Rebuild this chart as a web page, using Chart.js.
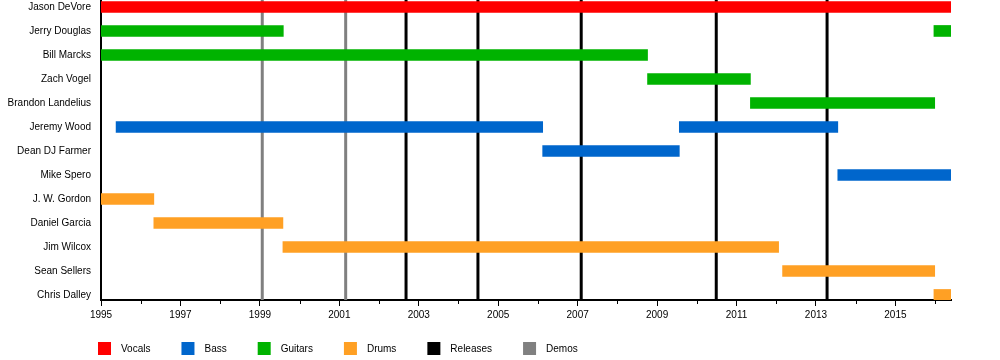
<!DOCTYPE html>
<html>
<head>
<meta charset="utf-8">
<script src="https://cdn.jsdelivr.net/npm/chart.js@4.4.1/dist/chart.umd.min.js"></script>
<style>
  html, body { margin: 0; padding: 0; background: #fff; }
  #c { display: block; }
</style>
</head>
<body>
<canvas id="c" width="1000" height="360"></canvas>
<script>
// ---- data ----
const members = ['Jason DeVore', 'Jerry Douglas', 'Bill Marcks', 'Zach Vogel', 'Brandon Landelius',
  'Jeremy Wood', 'Dean DJ Farmer', 'Mike Spero', 'J. W. Gordon', 'Daniel Garcia',
  'Jim Wilcox', 'Sean Sellers', 'Chris Dalley'];
const timelineStart = 1995;
const timelineEnd = 2016.4;
const yearTicks = [1995, 1996, 1997, 1998, 1999, 2000, 2001, 2002, 2003, 2004, 2005,
  2006, 2007, 2008, 2009, 2010, 2011, 2012, 2013, 2014, 2015, 2016];
const vocals = [['Jason DeVore', 1995, 2016.4]];
const bass = [['Jeremy Wood', 1995.38, 2006.12], ['Dean DJ Farmer', 2006.12, 2009.56],
  ['Jeremy Wood', 2009.56, 2013.55], ['Mike Spero', 2013.55, 2016.4]];
const guitars = [['Jerry Douglas', 1995, 1999.59], ['Bill Marcks', 1995, 2008.76],
  ['Zach Vogel', 2008.76, 2011.35], ['Brandon Landelius', 2011.35, 2015.99],
  ['Jerry Douglas', 2015.97, 2016.4]];
const drums = [['J. W. Gordon', 1995, 1996.33], ['Daniel Garcia', 1996.33, 1999.58],
  ['Jim Wilcox', 1999.58, 2012.06], ['Sean Sellers', 2012.16, 2015.99],
  ['Chris Dalley', 2015.97, 2016.4]];
const releases = [2002.68, 2004.49, 2007.09, 2010.49, 2013.28];
const demos = [1999.06, 2001.16];

// ---- styles ----
const FONT = "'Liberation Sans', Arial, sans-serif";
const colors = { Vocals: '#ff0000', Bass: '#0066cc', Guitars: '#00b300', Drums: '#ffa024', Releases: '#000000', Demos: '#808080' };

function toBars(spans) {
  return spans.map(s => ({ x: [s[1], s[2]], y: members.indexOf(s[0]) }));
}
const roleSets = [['Vocals', vocals], ['Bass', bass], ['Guitars', guitars], ['Drums', drums]];
const datasets = roleSets.map(([name, spans]) => ({
  label: name,
  data: toBars(spans),
  backgroundColor: colors[name],
  borderWidth: 0,
  maxBarThickness: 11,
  barPercentage: 1,
  categoryPercentage: 1,
  grouped: false
}));

const eventLines = {
  id: 'eventLines',
  beforeDatasetsDraw(chart) {
    const { ctx, chartArea, scales: { x } } = chart;
    ctx.save();
    const draw = (vals, col) => {
      ctx.strokeStyle = col;
      ctx.lineWidth = 3;
      vals.forEach(v => {
        const px = x.getPixelForValue(v);
        ctx.beginPath();
        ctx.moveTo(px, chartArea.top);
        ctx.lineTo(px, chartArea.bottom);
        ctx.stroke();
      });
    };
    draw(demos, colors.Demos);
    draw(releases, colors.Releases);
    ctx.restore();
  }
};

const minorTicks = {
  id: 'minorTicks',
  afterDraw(chart) {
    const { ctx, chartArea, scales: { x } } = chart;
    ctx.save();
    ctx.strokeStyle = '#000';
    ctx.lineWidth = 1;
    yearTicks.filter(v => v % 2 === 0).forEach(v => {
      const px = Math.round(x.getPixelForValue(v)) + 0.5;
      ctx.beginPath();
      ctx.moveTo(px, chartArea.bottom);
      ctx.lineTo(px, chartArea.bottom + 4);
      ctx.stroke();
    });
    ctx.restore();
  }
};

const legendItems = ['Vocals', 'Bass', 'Guitars', 'Drums', 'Releases', 'Demos'];
const customLegend = {
  id: 'customLegend',
  afterDraw(chart) {
    const { ctx, chartArea } = chart;
    ctx.save();
    ctx.font = '10px ' + FONT;
    ctx.textBaseline = 'middle';
    ctx.textAlign = 'left';
    let xPos = chartArea.left - 3;
    const yTop = chartArea.bottom + 42;
    legendItems.forEach(name => {
      ctx.fillStyle = colors[name];
      ctx.fillRect(xPos, yTop, 13, 13);
      ctx.fillStyle = '#000';
      const tx = xPos + 23;
      ctx.fillText(name, tx, yTop + 7);
      xPos = tx + ctx.measureText(name).width + 31;
    });
    ctx.restore();
  }
};

new Chart(document.getElementById('c'), {
  type: 'bar',
  data: { datasets },
  plugins: [eventLines, minorTicks, customLegend],
  options: {
    indexAxis: 'y',
    responsive: false,
    devicePixelRatio: 1,
    animation: false,
    layout: { padding: { left: 0, right: 49, top: 0, bottom: 0 } },
    plugins: { legend: { display: false }, tooltip: { enabled: false } },
    scales: {
      x: {
        type: 'linear',
        position: 'bottom',
        offset: false,
        min: timelineStart,
        max: timelineEnd,
        afterBuildTicks(scale) { scale.ticks = yearTicks.map(v => ({ value: v })); },
        afterFit(scale) { scale.height = 60; scale.paddingLeft = 0; scale.paddingRight = 0; },
        ticks: {
          autoSkip: false,
          maxRotation: 0,
          padding: 3,
          color: '#000',
          font: { family: FONT, size: 10 },
          callback: v => (v % 2 === 1 ? String(v) : '')
        },
        grid: {
          display: true,
          offset: false,
          drawOnChartArea: false,
          drawTicks: true,
          tickLength: 6,
          tickWidth: 1,
          tickColor: ctx => (ctx.tick && ctx.tick.value % 2 === 1 ? '#000' : 'rgba(0,0,0,0)')
        },
        border: { display: true, color: '#000', width: 2 }
      },
      y: {
        type: 'linear',
        reverse: true,
        offset: false,
        min: -0.29,
        max: 12.21,
        afterBuildTicks(scale) { scale.ticks = members.map((m, i) => ({ value: i })); },
        afterFit(scale) { scale.width = 101; scale.paddingTop = 0; scale.paddingBottom = 0; },
        ticks: {
          autoSkip: false,
          padding: 10,
          color: '#000',
          font: { family: FONT, size: 10 },
          callback: v => members[v] || ''
        },
        grid: { display: false, offset: false, drawTicks: false },
        border: { display: true, color: '#000', width: 2 }
      }
    }
  }
});
</script>
</body>
</html>
